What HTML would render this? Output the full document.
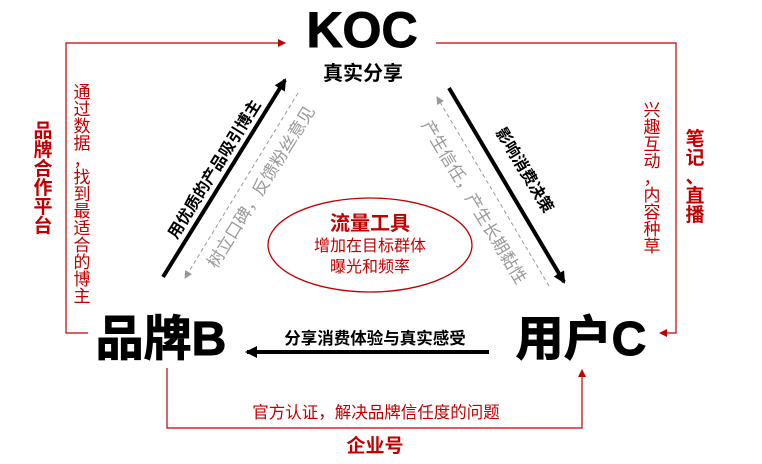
<!DOCTYPE html>
<html><head><meta charset="utf-8"><style>
body{margin:0;background:#fff}
svg{display:block;font-family:"Liberation Sans","Noto Sans CJK SC",sans-serif}
</style></head><body>
<svg width="762" height="464" viewBox="0 0 762 464">
<defs>
<marker id="r" markerWidth="8" markerHeight="8" refX="7" refY="4" orient="auto" markerUnits="userSpaceOnUse"><path d="M0,0 L8,4 L0,8 Z" fill="#c00000"/></marker>
<marker id="k" markerWidth="12" markerHeight="12" refX="10" refY="6" orient="auto" markerUnits="userSpaceOnUse"><path d="M0,0 L12,6 L0,12 Z" fill="#000"/></marker>
<marker id="g" markerWidth="8" markerHeight="8" refX="7" refY="4" orient="auto" markerUnits="userSpaceOnUse"><path d="M0,0 L8,4 L0,8 Z" fill="#999"/></marker>
</defs>
<text x="362" y="47" font-size="50" font-weight="bold" text-anchor="middle" stroke="#000" stroke-width="1">KOC</text>
<text x="363" y="80" font-size="20" font-weight="bold" text-anchor="middle">真实分享</text>
<polyline points="88,333 66,333 66,43 285,43" fill="none" stroke="#c00000" stroke-width="1.2" marker-end="url(#r)"/>
<polyline points="436,43 676,43 676,333 660,333" fill="none" stroke="#c00000" stroke-width="1.2" marker-end="url(#r)"/>
<polyline points="167,368 167,428 582,428 582,370" fill="none" stroke="#c00000" stroke-width="1.2" marker-end="url(#r)"/>
<g fill="#c00000" font-size="19" font-weight="bold" text-anchor="middle">
<text x="43" y="137">品</text><text x="43" y="156">牌</text><text x="43" y="175">合</text><text x="43" y="194">作</text><text x="43" y="213">平</text><text x="43" y="232">台</text>
<text x="695" y="145">笔</text><text x="695" y="164">记</text><text x="695" y="183">、</text><text x="695" y="202">直</text><text x="695" y="221">播</text>
</g>
<g fill="#c00000" font-size="17" text-anchor="middle">
<text x="82" y="98">通</text><text x="82" y="115">过</text><text x="82" y="132">数</text><text x="82" y="149">据</text><text x="82" y="166">，</text><text x="82" y="183">找</text><text x="82" y="200">到</text><text x="82" y="217">最</text><text x="82" y="234">适</text><text x="82" y="251">合</text><text x="82" y="268">的</text><text x="82" y="285">博</text><text x="82" y="302">主</text>
<text x="652" y="116">兴</text><text x="652" y="133">趣</text><text x="652" y="150">互</text><text x="652" y="167">动</text><text x="652" y="184">，</text><text x="652" y="201">内</text><text x="652" y="218">容</text><text x="652" y="235">种</text><text x="652" y="252">草</text>
</g>
<line x1="163" y1="277" x2="285" y2="80" stroke="#000" stroke-width="4" marker-end="url(#k)"/>
<text transform="translate(219,172) rotate(-58)" font-size="16" font-weight="bold" text-anchor="middle">用优质的产品吸引博主</text>
<line x1="298" y1="93" x2="185" y2="278" stroke="#999" stroke-width="1" stroke-dasharray="4,3" marker-end="url(#g)"/>
<text transform="translate(266,190) rotate(-58)" font-size="17" fill="#999" text-anchor="middle">树立口碑，反馈粉丝意见</text>
<line x1="449" y1="88" x2="564" y2="282" stroke="#000" stroke-width="4" marker-end="url(#k)"/>
<text transform="translate(520,173) rotate(59)" font-size="16" font-weight="bold" text-anchor="middle">影响消费决策</text>
<line x1="549" y1="286" x2="437" y2="97" stroke="#999" stroke-width="1" stroke-dasharray="4,3" marker-end="url(#g)"/>
<text transform="translate(469,205) rotate(59)" font-size="17" fill="#999" text-anchor="middle">产生信任，产生长期黏性</text>
<ellipse cx="370" cy="245" rx="102" ry="47" fill="none" stroke="#c00000" stroke-width="1.3"/>
<text x="370" y="230" font-size="20" font-weight="bold" fill="#c00000" text-anchor="middle">流量工具</text>
<text x="370" y="251" font-size="16" fill="#c00000" text-anchor="middle">增加在目标群体</text>
<text x="370" y="272" font-size="16" fill="#c00000" text-anchor="middle">曝光和频率</text>
<text x="161" y="355" font-size="48" font-weight="bold" text-anchor="middle" stroke="#000" stroke-width="1">品牌B</text>
<text x="581" y="355" font-size="48" font-weight="bold" text-anchor="middle" stroke="#000" stroke-width="1">用户C</text>
<line x1="489" y1="352" x2="247" y2="352" stroke="#000" stroke-width="4" marker-end="url(#k)"/>
<text x="375" y="344" font-size="16.5" font-weight="bold" text-anchor="middle">分享消费体验与真实感受</text>
<text x="376" y="418" font-size="16.5" fill="#c00000" text-anchor="middle">官方认证，解决品牌信任度的问题</text>
<text x="375" y="452" font-size="19" font-weight="bold" fill="#c00000" text-anchor="middle">企业号</text>
</svg>
</body></html>
